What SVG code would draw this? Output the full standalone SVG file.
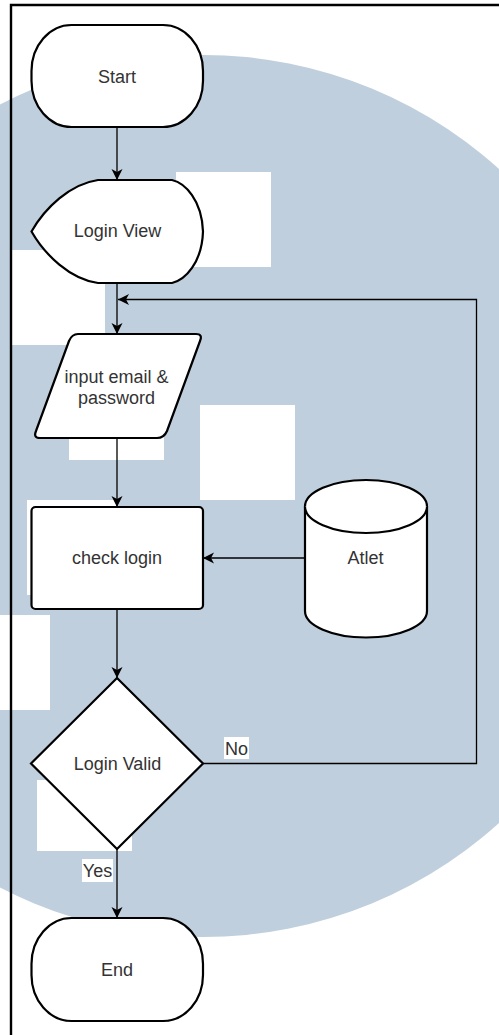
<svg xmlns="http://www.w3.org/2000/svg" width="499" height="1035" viewBox="0 0 499 1035">
<defs>
<style>
.shape{fill:#fff;stroke:#000;stroke-width:2.2}
.edge{fill:none;stroke:#000;stroke-width:1.3}
.lbl{font-family:"Liberation Sans",Arial,sans-serif;font-size:18px;fill:#333;text-anchor:middle}
.wm{fill:#fff}
</style>
<marker id="arr" markerUnits="userSpaceOnUse" markerWidth="14" markerHeight="14" viewBox="-12 -7 14 14" refX="0" refY="0" orient="auto">
<path d="M0,0 L-11,-5.5 L-8,0 L-11,5.5 Z" fill="#000"/>
</marker>
</defs>
<rect width="499" height="1035" fill="#fff"/>
<g id="watermark">
<circle cx="203" cy="496" r="441" fill="#bfcfdd"/>
<rect class="wm" x="176" y="172" width="95" height="95"/>
<rect class="wm" x="12" y="250" width="93" height="95"/>
<rect class="wm" x="69" y="365" width="95" height="95"/>
<rect class="wm" x="200" y="405" width="95" height="95"/>
<rect class="wm" x="27" y="500" width="89" height="95"/>
<rect class="wm" x="-45" y="615" width="95" height="95"/>
<rect class="wm" x="37" y="780" width="95" height="71"/>
</g>
<g id="frame">
<path d="M11,1035 L11,5 L499,5" fill="none" stroke="#000" stroke-width="2.4"/>
</g>
<g id="connectors">
<path class="edge" d="M117,128 L117,180" marker-end="url(#arr)"/>
<path class="edge" d="M117,283 L117,334" marker-end="url(#arr)"/>
<path class="edge" d="M117,438 L117,507" marker-end="url(#arr)"/>
<path class="edge" d="M305,558 L203,558" marker-end="url(#arr)"/>
<path class="edge" d="M117,609 L117,678" marker-end="url(#arr)"/>
<path class="edge" d="M117,849 L117,918" marker-end="url(#arr)"/>
<path class="edge" d="M203,763.5 L476.5,763.5 L476.5,299.5 L118,299.5" marker-end="url(#arr)"/>
<g id="label-no">
<rect x="224" y="737" width="25" height="22" fill="#fff"/>
<text class="lbl" x="236.5" y="755">No</text>
</g>
<g id="label-yes">
<rect x="82" y="859" width="31" height="23" fill="#fff"/>
<text class="lbl" x="97.5" y="877">Yes</text>
</g>
</g>
<g id="start">
<rect class="shape" x="31.5" y="25" width="171.5" height="102" rx="40" ry="46"/>
<text class="lbl" x="117" y="83">Start</text>
</g>
<g id="login-view">
<path class="shape" d="M31.5,231.5 C45,208 70,184 98,180 L172,180 C185,183 202,200 203,231.5 C202,263 185,280 172,283 L98,283 C70,279 45,255 31.5,231.5 Z"/>
<text class="lbl" x="117.5" y="237">Login View</text>
</g>
<g id="input">
<path class="shape" d="M78,334 L196,334 Q203,334 200,341 L167,431 Q164,438 157,438 L40,438 Q33,438 36,431 L69,341 Q72,334 78,334 Z"/>
<text class="lbl" x="116.5" y="382.5">input email &amp;</text>
<text class="lbl" x="116.5" y="403.5">password</text>
</g>
<g id="check-login">
<rect class="shape" x="31.5" y="507" width="171.5" height="102" rx="4"/>
<text class="lbl" x="117" y="564">check login</text>
</g>
<g id="atlet">
<path class="shape" d="M305,506.5 A61,26.5 0 0 1 427,506.5 L427,611 A61,26.5 0 0 1 305,611 Z"/>
<path class="shape" fill="none" d="M305,506.5 A61,26.5 0 0 0 427,506.5"/>
<text class="lbl" x="365.5" y="563.5">Atlet</text>
</g>
<g id="login-valid">
<path class="shape" d="M117,678 L203,763.5 L117,849 L31,763.5 Z"/>
<text class="lbl" x="117.5" y="770">Login Valid</text>
</g>
<g id="end">
<rect class="shape" x="31.5" y="918" width="171.5" height="103" rx="40" ry="46"/>
<text class="lbl" x="117" y="976">End</text>
</g>
</svg>
